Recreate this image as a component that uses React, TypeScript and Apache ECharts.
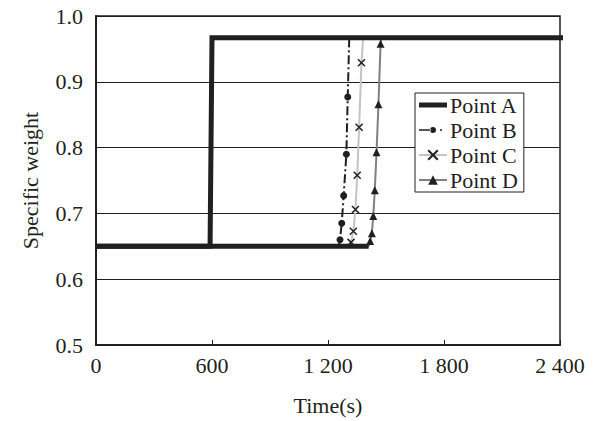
import React, { useEffect, useRef } from "react";
import * as echarts from "echarts";

const xTicks = [0, 600, 1200, 1800, 2400];
const yTicks = [0.5, 0.6, 0.7, 0.8, 0.9, 1.0];

const baseValue = 0.65;
const topValue = 0.967;

// Point A
const timesA = [0, 590, 600, 2420];
const valuesA = [0.65, 0.65, 0.967, 0.967];

// Point B
const startB = 1255;
const markerTimesB = [1262, 1271, 1281, 1295, 1302];
const markerValuesB = [0.66, 0.685, 0.727, 0.79, 0.877];
const endB = 1310;

// Point C
const startC = 1315;
const markerTimesC = [1319, 1331, 1342, 1351, 1361, 1373];
const markerValuesC = [0.656, 0.673, 0.706, 0.758, 0.831, 0.929];
const endC = 1382;

// Point D
const startD = 1410;
const markerTimesD = [1418, 1427, 1434, 1442, 1451, 1461, 1472];
const markerValuesD = [0.658, 0.67, 0.696, 0.735, 0.793, 0.866, 0.958];
const endD = 1476;

const INK = "#231f20";
const FONT = "Liberation Serif";
const FS = 22;

function buildSeries(start: number, times: number[], values: number[], end: number) {
  const data: any[] = [];
  data.push({ value: [0, baseValue], symbol: "none" });
  data.push({ value: [start, baseValue], symbol: "none" });
  times.forEach((t, i) => data.push({ value: [t, values[i]] }));
  data.push({ value: [end, topValue], symbol: "none" });
  data.push({ value: [xTicks[xTicks.length - 1], topValue], symbol: "none" });
  return data;
}

function fmtX(v: number) {
  if (v >= 1000) {
    return `${Math.floor(v / 1000)} ${String(v % 1000).padStart(3, "0")}`;
  }
  return String(v);
}

export default function App() {
  const ref = useRef<HTMLDivElement>(null);
  useEffect(() => {
    if (!ref.current) return;
    const chart = echarts.init(ref.current, undefined, { renderer: "svg" });
    const crossPath = "path://M0,0L10,10M10,0L0,10";
    const iconA = "path://M0,0H28V5H0Z";
    const iconB =
      "path://M0,5.2H12V6.8H0Z M11,6a3,3 0 1,0 6,0a3,3 0 1,0 -6,0Z M21,5.2H23V6.8H21Z M27.9,0H28V0.1H27.9Z M0,11.9H0.1V12H0Z";
    chart.setOption({
      animation: false,
      backgroundColor: "#ffffff",
      textStyle: { fontFamily: FONT, color: INK },
      grid: {
        left: 96,
        right: 35,
        top: 16,
        bottom: 75,
        show: true,
        borderColor: INK,
        borderWidth: 1.5,
      },
      legend: {
        data: [
          { name: "Point A", icon: iconA },
          { name: "Point B", icon: iconB },
          "Point C",
          "Point D",
        ],
        orient: "vertical",
        left: 415,
        top: 93,
        backgroundColor: "#ffffff",
        borderColor: INK,
        borderWidth: 1,
        borderRadius: 0,
        padding: [1, 6, 1, 3],
        itemWidth: 28,
        itemHeight: 12,
        itemGap: 3,
        textStyle: { fontFamily: FONT, fontSize: FS, color: INK, padding: [0, 0, 0, -2] },
      },
      xAxis: {
        type: "value",
        min: xTicks[0],
        max: xTicks[xTicks.length - 1],
        interval: xTicks[1] - xTicks[0],
        name: "Time(s)",
        nameLocation: "middle",
        nameGap: 49,
        nameTextStyle: { fontFamily: FONT, fontSize: FS, color: INK },
        axisLine: { show: true, lineStyle: { color: INK, width: 2 } },
        axisTick: { show: true, inside: true, length: 5, lineStyle: { color: INK } },
        axisLabel: { formatter: fmtX, fontFamily: FONT, fontSize: FS, color: INK, margin: 9 },
        splitLine: { show: false },
      },
      yAxis: {
        type: "value",
        min: yTicks[0],
        max: yTicks[yTicks.length - 1],
        interval: 0.1,
        name: "Specific weight",
        nameLocation: "middle",
        nameGap: 55,
        nameTextStyle: { fontFamily: FONT, fontSize: FS, color: INK },
        axisLine: { show: true, lineStyle: { color: INK, width: 2 } },
        axisTick: { show: false },
        axisLabel: {
          formatter: (v: number) => v.toFixed(1),
          fontFamily: FONT,
          fontSize: FS,
          color: INK,
          margin: 13,
        },
        splitLine: { show: true, lineStyle: { color: INK, width: 1 } },
      },
      series: [
        {
          name: "baseline",
          type: "line",
          data: [
            [0, baseValue],
            [startD, baseValue],
          ],
          symbol: "none",
          lineStyle: { color: INK, width: 5 },
          z: 7,
        },
        {
          name: "Point A",
          type: "line",
          data: timesA.map((t, i) => [t, valuesA[i]]),
          symbol: "none",
          clip: false,
          itemStyle: { color: INK },
          lineStyle: { color: INK, width: 5, join: "miter" },
          z: 7,
        },
        {
          name: "Point B",
          type: "line",
          data: buildSeries(startB, markerTimesB, markerValuesB, endB),
          symbol: "circle",
          symbolSize: 7,
          showAllSymbol: true,
          itemStyle: { color: INK },
          lineStyle: { color: INK, width: 2, type: [9, 3, 2, 3] },
          z: 5,
        },
        {
          name: "Point C",
          type: "line",
          data: buildSeries(startC, markerTimesC, markerValuesC, endC),
          symbol: crossPath,
          symbolSize: 7,
          showAllSymbol: true,
          itemStyle: { color: INK, borderColor: INK, borderWidth: 1.5 },
          lineStyle: { color: "#c4c4c4", width: 2 },
          z: 5,
        },
        {
          name: "Point D",
          type: "line",
          data: buildSeries(startD, markerTimesD, markerValuesD, endD),
          symbol: "triangle",
          symbolSize: 8,
          showAllSymbol: true,
          itemStyle: { color: INK },
          lineStyle: { color: "#808080", width: 2 },
          z: 5,
        },
      ],
    });
    return () => chart.dispose();
  }, []);
  return (
    <div
      ref={ref}
      style={{ position: "absolute", left: 0, top: 0, width: 595, height: 421 }}
    />
  );
}
